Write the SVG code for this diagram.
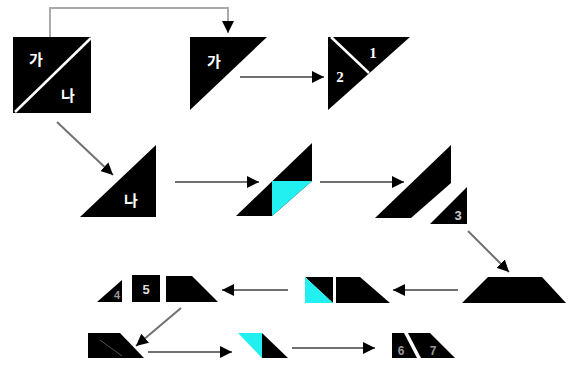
<svg xmlns="http://www.w3.org/2000/svg" width="571" height="365" viewBox="0 0 571 365">
  <style>
    .piece { fill: #000; }
    .cyan { fill: #22f0f0; }
    .cut { stroke: #fff; stroke-width: 2.5; fill: none; }
    .lbl { fill: #fff; font-family: "Liberation Sans", sans-serif; font-weight: bold; font-size: 13px; text-anchor: middle; }
    .kr { fill: #fff; font-family: "Noto Sans CJK KR", sans-serif; font-weight: bold; font-size: 15px; text-anchor: middle; }
    .num { fill: #fff; font-family: "Liberation Serif", serif; font-weight: bold; font-size: 15px; text-anchor: middle; }
    .dim { fill: #999; }
    .conn { stroke: #707070; stroke-width: 2; fill: none; marker-end: url(#head); }
  </style>
  <defs>
    <marker id="head" viewBox="0 0 10 10" refX="10" refY="5" markerWidth="6" markerHeight="6" orient="auto" markerUnits="strokeWidth">
      <path d="M0,0 L10,5 L0,10 z" fill="#000"/>
    </marker>
  </defs>
  <rect width="571" height="365" fill="#fff"/>

  <g id="connectors">
    <path class="conn" style="stroke:#aaa" d="M50,37 V8 H228 V33"/>
    <path class="conn" d="M240,77 H324"/>
    <path class="conn" d="M57,122 L113,175"/>
    <path class="conn" d="M175,182 H259"/>
    <path class="conn" d="M320,182 H404"/>
    <path class="conn" d="M468,231 L509,272"/>
    <path class="conn" d="M458,290 H393"/>
    <path class="conn" d="M288,290 H222"/>
    <path class="conn" d="M181,308 L136,346"/>
    <path class="conn" d="M148,352 H232"/>
    <path class="conn" d="M292,348 H375"/>
  </g>

  <g id="square">
    <rect class="piece" x="13" y="37" width="78" height="76"/>
    <line class="cut" x1="15" y1="112" x2="91" y2="38"/>
    <text class="kr" x="36" y="65">가</text>
    <text class="kr" x="68" y="101">나</text>
  </g>

  <g id="tri-ga">
    <polygon class="piece" points="190,37 267,37 190,110"/>
    <text class="kr" x="214" y="67">가</text>
  </g>

  <g id="tri-12">
    <polygon class="piece" points="328,37 410,37 328,110"/>
    <line class="cut" x1="331" y1="37" x2="369" y2="73"/>
    <text class="num" x="373" y="58">1</text>
    <text class="num" x="340" y="82">2</text>
  </g>

  <g id="tri-na">
    <polygon class="piece" points="80,217 156,145 156,217"/>
    <text class="kr" x="131" y="206">나</text>
  </g>

  <g id="step-cyan">
    <polygon class="piece" points="236,216 312,143 312,181 272,216"/>
    <polygon class="cyan" points="272,181 312,181 272,216"/>
  </g>

  <g id="step-split">
    <polygon class="piece" points="375,218 451,145 451,183 411,218"/>
    <polygon class="piece" points="430,224 467,187 467,224"/>
    <text class="lbl" x="458" y="220" style="fill:#ccc">3</text>
  </g>

  <g id="trapezoid">
    <polygon class="piece" points="488,277 542,277 566,303 462,303"/>
  </g>

  <g id="step-square">
    <polygon class="piece" points="305,277 333,277 333,303"/>
    <polygon class="cyan" points="305,277 333,303 305,303"/>
    <polygon class="piece" points="336,277 360,277 390,303 336,303"/>
  </g>

  <g id="pieces-45">
    <polygon class="piece" points="97,302 122,280 122,302"/>
    <text class="lbl dim" x="117" y="299" style="font-size:11px">4</text>
    <rect class="piece" x="132" y="275" width="28" height="27"/>
    <text class="lbl" x="146" y="294" style="fill:#ddd">5</text>
    <polygon class="piece" points="166,276 192,276 218,302 166,302"/>
  </g>

  <g id="step-slant">
    <polygon class="piece" points="88,333 120,333 144,358 88,358"/>
    <line x1="100" y1="340" x2="122" y2="356" stroke="#555" stroke-width="1"/>
  </g>

  <g id="step-tri">
    <polygon class="cyan" points="238,333 262,333 262,358"/>
    <polygon class="piece" points="262,333 288,358 262,358"/>
  </g>

  <g id="pieces-67">
    <polygon class="piece" points="392,333 404,333 417,358 392,358"/>
    <polygon class="piece" points="408,333 430,333 455,358 421,358"/>
    <text class="lbl dim" x="401" y="355" style="font-size:12px">6</text>
    <text class="lbl dim" x="433" y="355" style="font-size:12px">7</text>
  </g>
</svg>
